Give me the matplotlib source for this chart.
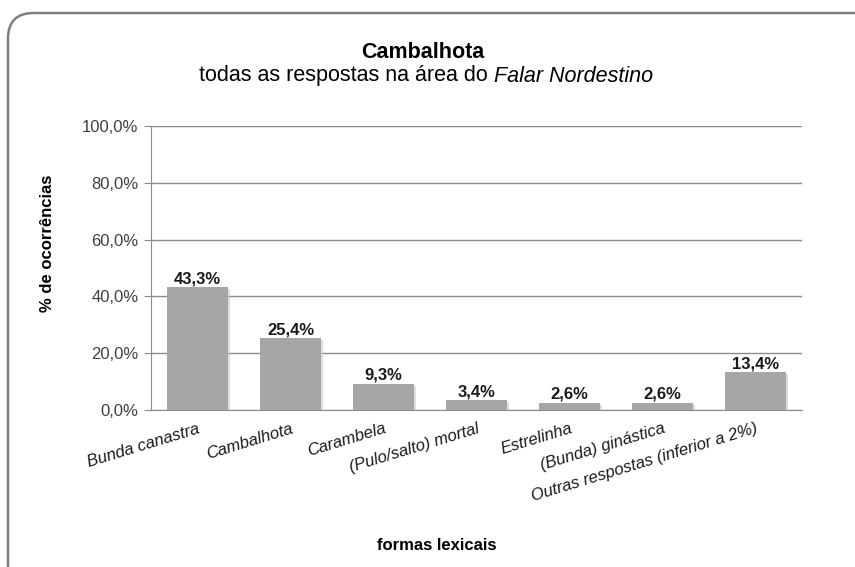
import matplotlib
matplotlib.use("Agg")
import matplotlib.pyplot as plt
from matplotlib.patches import FancyBboxPatch
import matplotlib.patheffects as pe

categories = ["Bunda canastra", "Cambalhota", "Carambela", "(Pulo/salto) mortal",
              "Estrelinha", "(Bunda) ginástica", "Outras respostas (inferior a 2%)"]
values = [43.3, 25.4, 9.3, 3.4, 2.6, 2.6, 13.4]
yticks = [0, 20, 40, 60, 80, 100]
title = "Cambalhota"
subtitle_plain = "todas as respostas na área do "
subtitle_italic = "Falar Nordestino"
xlabel = "formas lexicais"
ylabel = "% de ocorrências"

plt.rcParams['font.family'] = ['Liberation Sans', 'DejaVu Sans']

W, H = 855, 567
fig = plt.figure(figsize=(W / 100, H / 100), dpi=100)

# rounded frame
frame = FancyBboxPatch((8 / W, -30 / H), (880 - 8) / W, (567 - 13 + 30) / H,
                       boxstyle="round,pad=0,rounding_size=0.03",
                       transform=fig.transFigure, facecolor="white",
                       edgecolor="#7f7f7f", linewidth=1.8, zorder=-1,
                       mutation_aspect=W / H)
fig.patches.append(frame)

ax = fig.add_axes([151 / W, 1 - 410 / H, (802 - 151) / W, (410 - 126) / H])
ax.set_facecolor("none")
x = list(range(len(categories)))
bars = ax.bar(x, values, width=0.66, color="#a6a6a6", zorder=3)
for b in bars:
    b.set_path_effects([pe.SimplePatchShadow(offset=(1.5, -1.5), shadow_rgbFace="#c8c8c8", alpha=0.6),
                        pe.Normal()])

ax.set_xlim(-0.5, len(categories) - 0.5)
ax.set_ylim(0, 100)
ax.set_yticks(yticks)
ax.set_yticklabels([f"{v:.1f}%".replace(".", ",") for v in yticks], fontsize=12, color="#404040")
ax.yaxis.grid(True, color="#8c8c8c", linewidth=1)
ax.set_axisbelow(True)
for s in ["top", "right"]:
    ax.spines[s].set_visible(False)
ax.spines["left"].set_color("#8c8c8c")
ax.spines["bottom"].set_color("#8c8c8c")
ax.tick_params(axis="y", length=5, color="#8c8c8c", pad=4)
ax.tick_params(axis="x", length=0, pad=8)
ax.set_xticks(x)
ax.set_xticklabels(categories, rotation=17, ha="right", rotation_mode="anchor",
                   fontsize=12, style="italic", color="#1a1a1a")

for xi, v in zip(x, values):
    ax.annotate(f"{v:.1f}%".replace(".", ","), (xi, v), xytext=(0, 0.5), textcoords="offset points",
                ha="center", va="bottom", fontsize=12, fontweight="bold", color="#1a1a1a")

fig.text(423 / W, 1 - 52 / H, title, ha="center", va="center", fontsize=15.5, fontweight="bold")

# subtitle with italic part
fs = 15.5
r = fig.canvas.get_renderer()
t1 = fig.text(0, 0, subtitle_plain, fontsize=fs)
t2 = fig.text(0, 0, subtitle_italic, fontsize=fs, style="italic")
w1 = t1.get_window_extent(r).width
w2 = t2.get_window_extent(r).width
start = 426 - (w1 + w2) / 2
t1.set_position((start / W, 1 - 76 / H)); t1.set_va("center")
t2.set_position(((start + w1) / W, 1 - 76 / H)); t2.set_va("center")

fig.text(437 / W, 1 - 545 / H, xlabel, ha="center", va="center", fontsize=12, fontweight="bold")
fig.text(48 / W, 1 - 243 / H, ylabel, ha="center", va="center", rotation=90, fontsize=12, fontweight="bold")

fig.savefig("out.png", dpi=100)
